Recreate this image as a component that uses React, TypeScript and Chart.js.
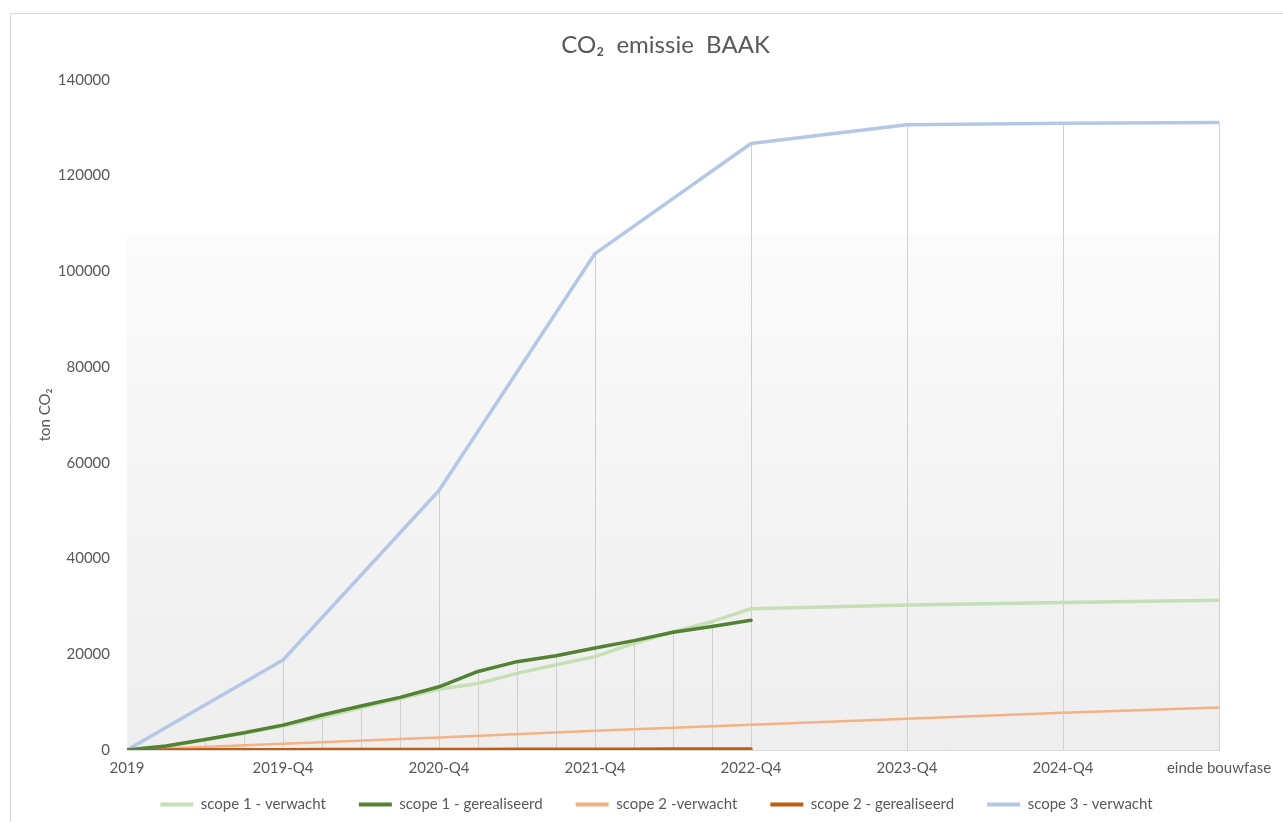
import React, { useEffect, useRef } from "react";
import { Chart, registerables } from "chart.js";

Chart.register(...registerables);

// Periods (quarters since start of 2019) — quarterly until 2022-Q4, then yearly
const periods = [
  "2019", "2019-Q1", "2019-Q2", "2019-Q3", "2019-Q4",
  "2020-Q1", "2020-Q2", "2020-Q3", "2020-Q4",
  "2021-Q1", "2021-Q2", "2021-Q3", "2021-Q4",
  "2022-Q1", "2022-Q2", "2022-Q3", "2022-Q4",
  "2023-Q4", "2024-Q4", "einde bouwfase",
];
const periodQuarter = [0, 1, 2, 3, 4, 5, 6, 7, 8, 9, 10, 11, 12, 13, 14, 15, 16, 20, 24, 28];

const tickQuarters = [0, 4, 8, 12, 16, 20, 24, 28];
const tickLabels = ["2019", "2019-Q4", "2020-Q4", "2021-Q4", "2022-Q4", "2023-Q4", "2024-Q4", "einde bouwfase"];

const scope1Verwacht = [0, 800, 2100, 3500, 5000, 6800, 8800, 10700, 12700, 13900, 16000, 17800, 19500, 22300, 24700, 26800, 29500, 30300, 30800, 31300];
const scope1Gerealiseerd = [0, 850, 2200, 3600, 5200, 7300, 9200, 11000, 13200, 16400, 18450, 19700, 21300, 22850, 24600, 25800, 27100, null, null, null];
const scope2Verwacht = [0, null, null, null, 1300, null, null, null, 2600, null, null, null, 4000, null, null, null, 5300, 6550, 7800, 8900];
const scope2Gerealiseerd = [0, 20, 30, 50, 60, 80, 90, 100, 120, 130, 140, 160, 170, 180, 190, 210, 220, null, null, null];
const scope3Verwacht = [0, null, null, null, 18800, null, null, null, 54200, null, null, null, 103700, null, null, null, 126700, 130600, 130900, 131100];

const yTicks = [0, 20000, 40000, 60000, 80000, 100000, 120000, 140000];

const toPoints = (vals: (number | null)[]) =>
  vals.map((v, i) => ({ x: periodQuarter[i], y: v }));

const textColor = "#595959";

const backgroundPlugin = {
  id: "bgPlugin",
  beforeDraw(chart: any) {
    const { ctx, chartArea, width, height } = chart;
    ctx.save();
    ctx.fillStyle = "#ffffff";
    ctx.fillRect(0, 0, width, height);
    const g = ctx.createLinearGradient(0, chartArea.top, 0, chartArea.bottom);
    g.addColorStop(0, "#ffffff");
    g.addColorStop(0.227, "#ffffff");
    g.addColorStop(0.232, "#fbfbfb");
    g.addColorStop(1, "#eeeeee");
    ctx.fillStyle = g;
    ctx.fillRect(chartArea.left, chartArea.top, chartArea.right - chartArea.left, chartArea.bottom - chartArea.top);
    // outer chart border
    ctx.strokeStyle = "#d9d9d9";
    ctx.lineWidth = 1;
    ctx.beginPath();
    ctx.moveTo(10.5, height);
    ctx.lineTo(10.5, 13.5);
    ctx.lineTo(width, 13.5);
    ctx.stroke();
    ctx.restore();
  },
};

const dropLinePlugin = {
  id: "dropLines",
  beforeDatasetsDraw(chart: any) {
    const { ctx } = chart;
    const xs = chart.scales.x;
    const ys = chart.scales.y;
    ctx.save();
    ctx.strokeStyle = "#d0d0d0";
    ctx.lineWidth = 1;
    periodQuarter.forEach((q, i) => {
      let max: number | null = null;
      chart.data.datasets.forEach((ds: any) => {
        const p = ds.data[i];
        if (p && p.y !== null && p.y !== undefined) {
          if (max === null || p.y > max) max = p.y;
        }
      });
      if (max === null || max <= 0) return;
      const px = Math.round(xs.getPixelForValue(q)) + 0.5;
      ctx.beginPath();
      ctx.moveTo(px, ys.getPixelForValue(0));
      ctx.lineTo(px, ys.getPixelForValue(max));
      ctx.stroke();
    });
    ctx.restore();
  },
};

// Shift title / legend boxes after layout so they sit where the reference has them
const layoutShiftPlugin = {
  id: "layoutShift",
  afterLayout(chart: any) {
    const t = chart.titleBlock;
    if (t) {
      t.left += 51;
      t.right += 51;
    }
    const l = chart.legend;
    if (l) {
      l.top -= 14;
      l.bottom -= 14;
      l.left += 42;
      l.right += 42;
    }
  },
};

export default function App() {
  const ref = useRef<HTMLCanvasElement | null>(null);

  useEffect(() => {
    if (!ref.current) return;
    Chart.defaults.font.family = "Lato";
    Chart.defaults.color = textColor;
    const mk = (label: string, vals: (number | null)[], color: string, width: number, order: number) => ({
      label,
      data: toPoints(vals),
      borderColor: color,
      backgroundColor: color,
      borderWidth: width,
      pointRadius: 0,
      pointHoverRadius: 0,
      tension: 0,
      spanGaps: true,
      borderJoinStyle: "round" as const,
      borderCapStyle: "round" as const,
      order,
    });
    const chart = new Chart(ref.current, {
      type: "line",
      data: {
        datasets: [
          mk("scope 1 - verwacht", scope1Verwacht, "#c5e0b4", 3.5, 2),
          mk("scope 1 - gerealiseerd", scope1Gerealiseerd, "#548235", 3.5, 0),
          mk("scope 2 -verwacht", scope2Verwacht, "#f4b183", 2.5, 3),
          mk("scope 2 - gerealiseerd", scope2Gerealiseerd, "#c55a11", 3.5, 1),
          mk("scope 3 - verwacht", scope3Verwacht, "#b4c7e7", 3.5, 4),
        ],
      },
      options: {
        animation: false,
        responsive: false,
        devicePixelRatio: 1,
        layout: { padding: { left: 10, right: 64, top: 0, bottom: -14 } },
        plugins: {
          tooltip: { enabled: false },
          title: {
            display: true,
            text: "CO₂  emissie  BAAK",
            color: textColor,
            font: { family: "Lato", size: 24, weight: "normal" },
            padding: { top: 31, bottom: 20 },
          },
          legend: {
            position: "bottom",
            labels: {
              boxWidth: 33,
              boxHeight: 4,
              padding: 33,
              color: textColor,
              font: { family: "Lato", size: 15 },
              sort: (a: any, b: any) => a.datasetIndex - b.datasetIndex,
              generateLabels: (c: any) => {
                const items = (Chart.defaults.plugins.legend.labels as any).generateLabels(c);
                return items.map((it: any) => ({ ...it, fillStyle: it.strokeStyle, lineWidth: 0 }));
              },
            },
          },
        },
        scales: {
          x: {
            type: "linear",
            min: 0,
            max: 28,
            grid: { display: false, drawTicks: false },
            border: { display: true, color: "#d9d9d9", width: 1 },
            afterBuildTicks: (scale: any) => {
              scale.ticks = tickQuarters.map((v) => ({ value: v }));
            },
            afterFit: (scale: any) => {
              scale.height = 28;
            },
            ticks: {
              padding: 9,
              maxRotation: 0,
              autoSkip: false,
              color: textColor,
              font: { family: "Lato", size: 15 },
              callback: (v: any) => {
                const idx = tickQuarters.indexOf(Number(v));
                return idx >= 0 ? tickLabels[idx] : "";
              },
            },
          },
          y: {
            type: "linear",
            min: 0,
            max: 140000,
            grid: { display: false, drawTicks: false },
            border: { display: false },
            afterBuildTicks: (scale: any) => {
              scale.ticks = yTicks.map((v) => ({ value: v }));
            },
            afterFit: (scale: any) => {
              scale.width = 117;
            },
            title: {
              display: true,
              text: "ton CO₂",
              color: textColor,
              font: { family: "Lato", size: 15 },
              padding: { top: 26, bottom: 0 },
            },
            ticks: {
              padding: 17,
              color: textColor,
              font: { family: "Lato", size: 15 },
              callback: (v: any) => String(v),
            },
          },
        },
      },
      plugins: [backgroundPlugin, dropLinePlugin, layoutShiftPlugin],
    });
    return () => chart.destroy();
  }, []);

  return (
    <div style={{ position: "fixed", left: 0, top: 0, width: 1283, height: 822, background: "#fff" }}>
      <canvas ref={ref} width={1283} height={822} style={{ display: "block", width: 1283, height: 822 }} />
    </div>
  );
}
